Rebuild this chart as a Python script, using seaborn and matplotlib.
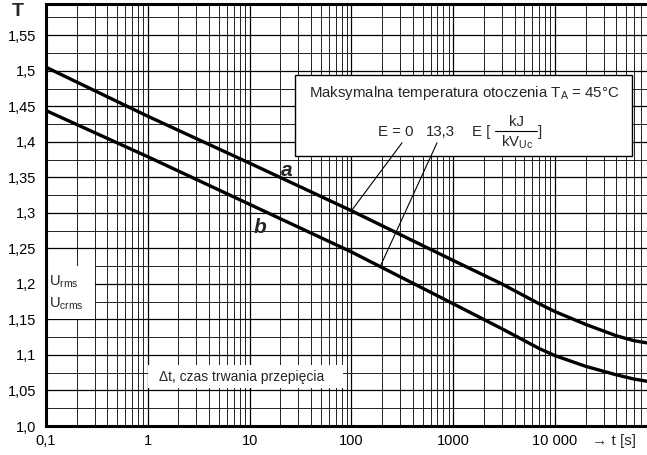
import matplotlib
matplotlib.use("Agg")
import pandas as pd
import matplotlib.pyplot as plt
import seaborn as sns
from matplotlib.ticker import FixedLocator, FixedFormatter, LogLocator, MultipleLocator, NullFormatter
from matplotlib.patches import Rectangle
from matplotlib.lines import Line2D

# Values
t_s = [0.1, 1, 10, 100, 1000, 3000, 7000, 10000, 20000, 40000, 60000, 80000]
curve_a = [1.505, 1.436, 1.370, 1.303, 1.233, 1.200, 1.172, 1.161, 1.143, 1.127, 1.120, 1.117]
curve_b = [1.444, 1.379, 1.312, 1.245, 1.172, 1.137, 1.109, 1.099, 1.084, 1.072, 1.066, 1.063]

x_ticks = [0.1, 1, 10, 100, 1000, 10000]
x_labels = ["0,1", "1", "10", "100", "1000", "10 000"]
y_ticks = [1.0, 1.05, 1.1, 1.15, 1.2, 1.25, 1.3, 1.35, 1.4, 1.45, 1.5, 1.55]
y_labels = ["1,0", "1,05", "1,1", "1,15", "1,2", "1,25", "1,3", "1,35", "1,4", "1,45", "1,5", "1,55"]

df = pd.DataFrame({
    "t": t_s * 2,
    "U": curve_a + curve_b,
    "curve": ["a"] * len(t_s) + ["b"] * len(t_s),
})

sns.set_style("white")
plt.rcParams["font.family"] = ["Liberation Sans", "DejaVu Sans"]
plt.rcParams["mathtext.fontset"] = "custom"
plt.rcParams["mathtext.rm"] = "Liberation Sans"
plt.rcParams["mathtext.it"] = "Liberation Sans:italic"
plt.rcParams["mathtext.bf"] = "Liberation Sans:bold"

fig = plt.figure(figsize=(6.47, 4.55), dpi=100)
ax = fig.add_axes([46 / 647, 29 / 455, 601 / 647, 422 / 455])


def px(x, y):
    # picture pixel -> axes fraction
    return (x - 46) / 601, (426 - y) / 422


sns.lineplot(data=df, x="t", y="U", hue="curve", palette={"a": "black", "b": "black"},
             linewidth=2.4, legend=False, ax=ax, zorder=6)

ax.set_xscale("log")
ax.set_xlim(0.1, 80000)
ax.set_ylim(1.0, 1.594)

ax.xaxis.set_major_locator(FixedLocator(x_ticks))
ax.xaxis.set_major_formatter(FixedFormatter(x_labels))
ax.xaxis.set_minor_locator(LogLocator(base=10, subs=range(2, 10), numticks=20))
ax.xaxis.set_minor_formatter(NullFormatter())
ax.yaxis.set_major_locator(FixedLocator(y_ticks))
ax.yaxis.set_major_formatter(FixedFormatter(y_labels))
ax.yaxis.set_minor_locator(MultipleLocator(0.025))

ax.grid(which="major", color="black", linewidth=0.9)
ax.grid(which="minor", color="#222222", linewidth=0.7)
ax.tick_params(which="both", length=0, labelsize=10.5, colors="black")
ax.tick_params(axis="y", pad=7)
ax.tick_params(axis="x", pad=6)
ax.set_xlabel("")
ax.set_ylabel("")

for side in ["left", "bottom", "top"]:
    ax.spines[side].set_color("black")
    ax.spines[side].set_linewidth(2.2)
    ax.spines[side].set_zorder(8)
ax.spines["right"].set_visible(False)

# axis titles
fig.text(18 / 647, 1 - 12 / 455, "T", fontsize=14, fontweight="bold", ha="center", va="center")
ax.text(*px(614, 441), "→ t [s]", transform=ax.transAxes, fontsize=11, ha="center", va="center")

# U_rms / U_crms box
ax.add_patch(Rectangle((0.1, 1.15), 0.2, 0.075, facecolor="white", edgecolor="none", zorder=3))
ax.text(0.108, 1.203, r"$\mathrm{U_{rms}}$", fontsize=10.5, ha="left", va="center", zorder=4)
ax.text(0.108, 1.172, r"$\mathrm{U_{crms}}$", fontsize=10.5, ha="left", va="center", zorder=4)

# time label
ax.add_patch(Rectangle(px(148, 388), (343 - 148) / 601, 23 / 422, transform=ax.transAxes,
                       facecolor="white", edgecolor="none", zorder=3))
ax.text(*px(242, 377), "Δt, czas trwania przepięcia", transform=ax.transAxes, fontsize=10,
        ha="center", va="center", zorder=4)

# curve labels
ax.text(23.3, 1.352, "a", fontsize=15, fontweight="bold", fontstyle="italic", ha="center",
        va="baseline", zorder=7)
ax.text(12.6, 1.272, "b", fontsize=15, fontweight="bold", fontstyle="italic", ha="center",
        va="baseline", zorder=7)

# info box
ax.add_patch(Rectangle(px(295, 156), (632 - 295) / 601, (156 - 75) / 422,
                       transform=ax.transAxes, facecolor="white", edgecolor="black", linewidth=1.0, zorder=4))
ax.text(*px(309, 93), r"Maksymalna temperatura otoczenia $\mathrm{T_A}$ = 45°C",
        transform=ax.transAxes, fontsize=10.8, ha="left", va="center", zorder=5)
ax.text(*px(396, 132), "E = 0", transform=ax.transAxes, fontsize=10.8,
        ha="center", va="center", zorder=5)
ax.text(*px(440, 132), "13,3", transform=ax.transAxes, fontsize=10.8,
        ha="center", va="center", zorder=5)
ax.text(*px(472, 132), "E [", transform=ax.transAxes, fontsize=10.8,
        ha="left", va="center", zorder=5)
ax.text(*px(517, 122), "kJ", transform=ax.transAxes, fontsize=10.8,
        ha="center", va="center", zorder=5)
ax.add_line(Line2D([px(495, 131)[0], px(537, 131)[0]], [px(495, 131)[1]] * 2,
                   transform=ax.transAxes, color="black", linewidth=0.8, zorder=5))
ax.text(*px(517, 142), r"$\mathrm{kV_{Uc}}$", transform=ax.transAxes, fontsize=10.8,
        ha="center", va="center", zorder=5)
ax.text(*px(538, 132), "]", transform=ax.transAxes, fontsize=10.8,
        ha="left", va="center", zorder=5)

# pointer lines from E values to curves
ax.annotate("", xy=(t_s[3], curve_a[3]), xytext=(314, 1.3986),
            arrowprops=dict(arrowstyle="-", color="black", linewidth=0.8,
                            shrinkA=0, shrinkB=0), zorder=5)
ax.annotate("", xy=(191, 1.224), xytext=(693, 1.3986),
            arrowprops=dict(arrowstyle="-", color="black", linewidth=0.8,
                            shrinkA=0, shrinkB=0), zorder=5)

fig.savefig("out.png", dpi=100)
